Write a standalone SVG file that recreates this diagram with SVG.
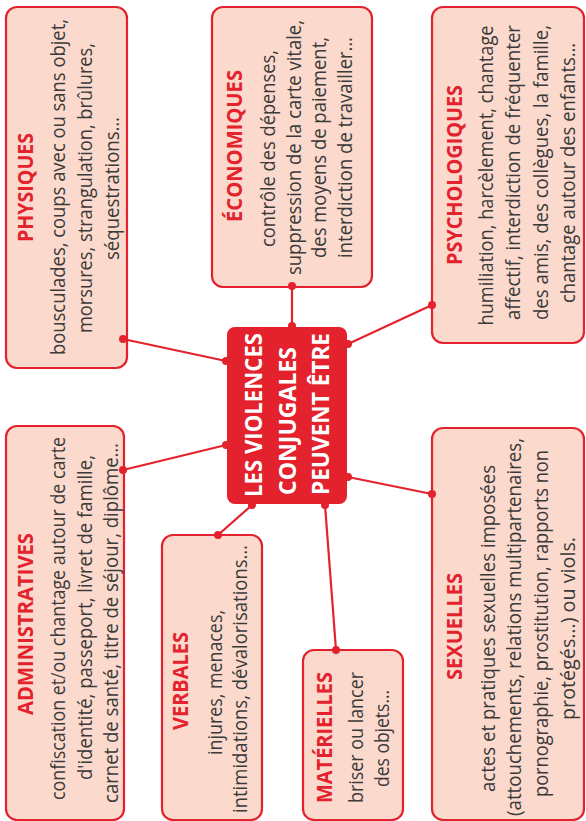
<svg xmlns="http://www.w3.org/2000/svg" width="586" height="821" viewBox="0 0 586 821">
<style>
.box{fill:#fbd9cc;stroke:#e3222d;stroke-width:2.2}
.core{fill:#e3222d}
.t{font-family:"Open Sans","Liberation Sans",sans-serif;font-weight:bold;font-size:21px;fill:#e3222d;text-anchor:middle}
.b{font-family:"Open Sans","Liberation Sans",sans-serif;font-size:20px;fill:#3a3a3a;text-anchor:middle}
.c{font-family:"Open Sans","Liberation Sans",sans-serif;font-weight:bold;font-size:24px;fill:#ffffff;text-anchor:start}
.ln{stroke:#e3222d;stroke-width:2.2;fill:none}
.dot{fill:#e3222d}
</style>
<rect width="586" height="821" fill="#ffffff"/>
<g id="connectors">
<line class="ln" x1="123" y1="339" x2="226" y2="361"/>
<line class="ln" x1="292" y1="286" x2="292" y2="326"/>
<line class="ln" x1="432" y1="305" x2="348" y2="344"/>
<line class="ln" x1="123" y1="470" x2="226" y2="445"/>
<line class="ln" x1="218" y1="535" x2="252" y2="505"/>
<line class="ln" x1="336" y1="650" x2="325" y2="505"/>
<line class="ln" x1="432" y1="494" x2="348" y2="477"/>
</g>
<g id="physiques">
<rect class="box" x="6" y="7" width="121" height="361" rx="11"/>
<g transform="rotate(-90)">
<text class="t" x="-187.5" y="33" textLength="109" lengthAdjust="spacingAndGlyphs">PHYSIQUES</text>
<text class="b" x="-187" y="65" textLength="336" lengthAdjust="spacingAndGlyphs">bousculades, coups avec ou sans objet,</text>
<text class="b" x="-188" y="92" textLength="290" lengthAdjust="spacingAndGlyphs">morsures, strangulation, brûlures,</text>
<text class="b" x="-188.5" y="119" textLength="143" lengthAdjust="spacingAndGlyphs">séquestrations…</text>
</g>
</g>
<g id="economiques">
<rect class="box" x="212" y="7" width="160" height="280" rx="11"/>
<g transform="rotate(-90)">
<text class="t" x="-146" y="242" textLength="152" lengthAdjust="spacingAndGlyphs">ÉCONOMIQUES</text>
<text class="b" x="-148.5" y="275" textLength="197" lengthAdjust="spacingAndGlyphs">contrôle des dépenses,</text>
<text class="b" x="-147.5" y="301" textLength="255" lengthAdjust="spacingAndGlyphs">suppression de la carte vitale,</text>
<text class="b" x="-147.5" y="326" textLength="221" lengthAdjust="spacingAndGlyphs">des moyens de paiement,</text>
<text class="b" x="-147.5" y="352" textLength="221" lengthAdjust="spacingAndGlyphs">interdiction de travailler…</text>
</g>
</g>
<g id="psychologiques">
<rect class="box" x="432" y="7" width="152" height="336" rx="11"/>
<g transform="rotate(-90)">
<text class="t" x="-175" y="462" textLength="180" lengthAdjust="spacingAndGlyphs">PSYCHOLOGIQUES</text>
<text class="b" x="-175.5" y="493" textLength="300" lengthAdjust="spacingAndGlyphs">humiliation, harcèlement, chantage</text>
<text class="b" x="-172.5" y="520" textLength="295" lengthAdjust="spacingAndGlyphs">affectif, interdiction de fréquenter</text>
<text class="b" x="-172.5" y="548" textLength="295" lengthAdjust="spacingAndGlyphs">des amis, des collègues, la famille,</text>
<text class="b" x="-173" y="575" textLength="260" lengthAdjust="spacingAndGlyphs">chantage autour des enfants…</text>
</g>
</g>
<g id="administratives">
<rect class="box" x="6" y="426" width="118" height="394" rx="11"/>
<g transform="rotate(-90)">
<text class="t" x="-624" y="33" textLength="182" lengthAdjust="spacingAndGlyphs">ADMINISTRATIVES</text>
<text class="b" x="-618.5" y="65" textLength="363" lengthAdjust="spacingAndGlyphs">confiscation et/ou chantage autour de carte</text>
<text class="b" x="-617.5" y="92" textLength="325" lengthAdjust="spacingAndGlyphs">d'identité, passeport, livret de famille,</text>
<text class="b" x="-623" y="118" textLength="360" lengthAdjust="spacingAndGlyphs">carnet de santé, titre de séjour, diplôme…</text>
</g>
</g>
<g id="verbales">
<rect class="box" x="162" y="535" width="100" height="285" rx="11"/>
<g transform="rotate(-90)">
<text class="t" x="-681" y="188" textLength="98" lengthAdjust="spacingAndGlyphs">VERBALES</text>
<text class="b" x="-682.5" y="222" textLength="145" lengthAdjust="spacingAndGlyphs">injures, menaces,</text>
<text class="b" x="-679" y="247" textLength="268" lengthAdjust="spacingAndGlyphs">intimidations, dévalorisations…</text>
</g>
</g>
<g id="materielles">
<rect class="box" x="303" y="650" width="100" height="170" rx="11"/>
<g transform="rotate(-90)">
<text class="t" x="-737.5" y="332" textLength="131" lengthAdjust="spacingAndGlyphs">MATÉRIELLES</text>
<text class="b" x="-737.5" y="363" textLength="131" lengthAdjust="spacingAndGlyphs">briser ou lancer</text>
<text class="b" x="-738.5" y="389" textLength="97" lengthAdjust="spacingAndGlyphs">des objets…</text>
</g>
</g>
<g id="sexuelles">
<rect class="box" x="432" y="428" width="152" height="392" rx="11"/>
<g transform="rotate(-90)">
<text class="t" x="-626.5" y="462" textLength="107" lengthAdjust="spacingAndGlyphs">SEXUELLES</text>
<text class="b" x="-628.5" y="495" textLength="327" lengthAdjust="spacingAndGlyphs">actes et pratiques sexuelles imposées</text>
<text class="b" x="-627" y="521" textLength="378" lengthAdjust="spacingAndGlyphs">(attouchements, relations multipartenaires,</text>
<text class="b" x="-623.5" y="548" textLength="347" lengthAdjust="spacingAndGlyphs">pornographie, prostitution, rapports non</text>
<text class="b" x="-628.5" y="575" textLength="183" lengthAdjust="spacingAndGlyphs">protégés…) ou viols.</text>
</g>
</g>
<g id="center">
<rect class="core" x="227" y="327" width="120" height="177" rx="8"/>
<g transform="rotate(-90)">
<text class="c" x="-497" y="262" textLength="164" lengthAdjust="spacingAndGlyphs">LES VIOLENCES</text>
<text class="c" x="-495" y="296" textLength="148" lengthAdjust="spacingAndGlyphs">CONJUGALES</text>
<text class="c" x="-495" y="329" textLength="162" lengthAdjust="spacingAndGlyphs">PEUVENT ÊTRE</text>
</g>
</g>
<g id="dots">
<circle class="dot" cx="123" cy="339" r="4"/>
<circle class="dot" cx="226" cy="361" r="4"/>
<circle class="dot" cx="292" cy="286" r="4"/>
<circle class="dot" cx="292" cy="326" r="4"/>
<circle class="dot" cx="432" cy="305" r="4"/>
<circle class="dot" cx="348" cy="344" r="4"/>
<circle class="dot" cx="123" cy="470" r="4"/>
<circle class="dot" cx="226" cy="445" r="4"/>
<circle class="dot" cx="218" cy="535" r="4"/>
<circle class="dot" cx="252" cy="505" r="4"/>
<circle class="dot" cx="336" cy="650" r="4"/>
<circle class="dot" cx="325" cy="505" r="4"/>
<circle class="dot" cx="432" cy="494" r="4"/>
<circle class="dot" cx="348" cy="477" r="4"/>
</g>
</svg>
